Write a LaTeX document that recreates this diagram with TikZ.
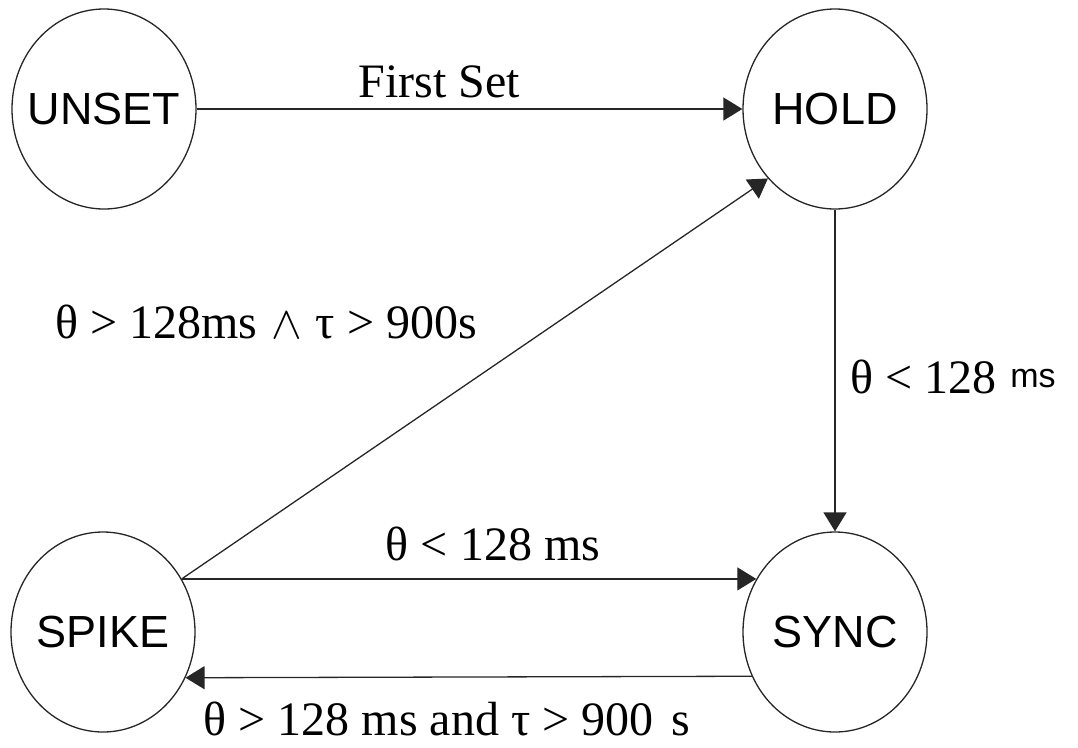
\RequirePackage{fix-cm}
\documentclass[tikz,border=0pt]{standalone}
\usepackage{fontspec}
\setmainfont{Liberation Serif}
\setsansfont{Liberation Sans}
\usetikzlibrary{shapes.geometric,arrows.meta}
\begin{document}
\begin{tikzpicture}[x=1pt,y=-1pt,
  state/.style={draw=black!85,line width=1.3pt,ellipse,minimum width=184pt,
    minimum height=200pt,inner sep=0pt,
    label={[inner sep=0pt,font=\sffamily\fontsize{45}{45}\selectfont]center:#1}},
  edge/.style={draw=black!85,line width=1.3pt,-{Triangle[length=19pt,width=23pt]}},
  lbl/.style={inner sep=0pt,font=\fontsize{48}{48}\selectfont}]
\useasboundingbox (0,0) rectangle (1078,747);

% states
\node[state=UNSET] (unset) at (104,109) {};
\node[state=HOLD]  (hold)  at (835,109) {};
\node[state=SPIKE] (spike) at (103,632) {};
\node[state=SYNC]  (sync)  at (835,632) {};

% transitions
\draw[edge] (unset) -- (hold);
\draw[edge] (hold) -- (sync);
\draw[edge] (spike.34) -- (hold.226);
\draw[edge] (spike.34) -- (sync.146);
\draw[edge] (sync.208.5) -- (spike.331.5);

% transition conditions
\node[lbl,anchor=base west] (ldiag) at (55,338)
  {θ > 128ms\hspace{14pt}{\fontsize{46}{46}\selectfont$\wedge$}\hspace{14pt}τ > 900s};
\node[lbl,anchor=base] (lfirst) at (439,97) {First Set};
\node[lbl,anchor=base west] (lright) at (850,393)
  {θ < 128\hspace{14pt}\raisebox{6pt}{\sffamily\fontsize{34}{34}\selectfont ms}};
\node[lbl,anchor=base] (lmid) at (493,560) {θ < 128 ms};
\node[lbl,anchor=base] (lbottom) at (447,735) {θ > 128 ms and τ > 900\hspace{6pt} s};
\end{tikzpicture}
\end{document}
